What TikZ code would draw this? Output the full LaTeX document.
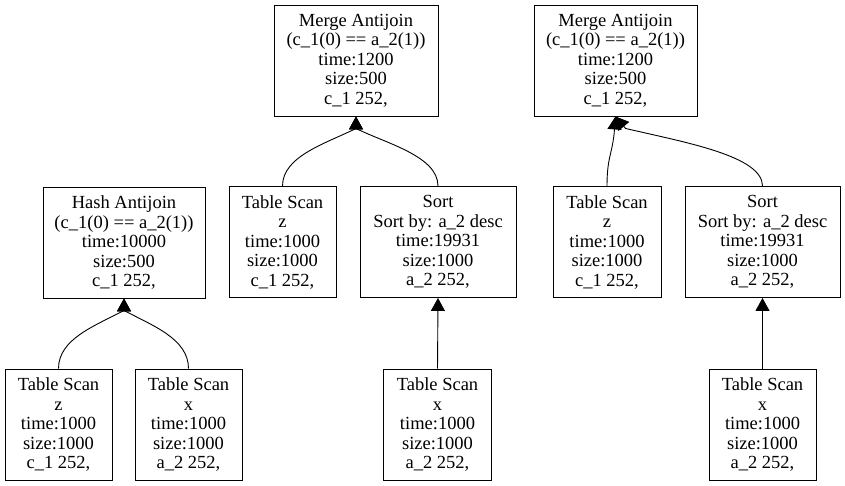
\documentclass[tikz,border=0pt]{standalone}
\usepackage{fontspec}
\setmainfont{Liberation Serif}
\usetikzlibrary{arrows.meta}

\tikzset{
  plan/.style={draw, line width=0.9pt, inner sep=0pt, align=center,
    font=\fontsize{18.5}{19.5}\selectfont, minimum height=111pt},
  flow/.style={line width=0.9pt, -{Triangle[length=13pt,width=14pt]}}
}

\begin{document}
\begin{tikzpicture}[x=1pt, y=-1pt]
  \useasboundingbox (0,0) rectangle (845,485);

  % left plan
  \node[plan, minimum width=162pt] (ha) at (124,242.5) {Hash Antijoin\\(c\_1(0) == a\_2(1))\\time:10000\\size:500\\c\_1 252,};
  \node[plan, minimum width=107pt] (tz1) at (58.5,424.5) {Table Scan\\z\\time:1000\\size:1000\\c\_1 252,};
  \node[plan, minimum width=107pt] (tx1) at (188.5,424.5) {Table Scan\\x\\time:1000\\size:1000\\a\_2 252,};

  % middle plan
  \node[plan, minimum width=164pt] (ma1) at (356,60.5) {Merge Antijoin\\(c\_1(0) == a\_2(1))\\time:1200\\size:500\\c\_1 252,};
  \node[plan, minimum width=107pt] (tz2) at (282.5,242) {Table Scan\\z\\time:1000\\size:1000\\c\_1 252,};
  \node[plan, minimum width=156pt] (so1) at (438,242) {Sort\\Sort by: a\_2 desc\\time:19931\\size:1000\\a\_2 252,};
  \node[plan, minimum width=108pt] (tx2) at (437.5,424.5) {Table Scan\\x\\time:1000\\size:1000\\a\_2 252,};

  % right plan
  \node[plan, minimum width=163pt] (ma2) at (615.5,60.5) {Merge Antijoin\\(c\_1(0) == a\_2(1))\\time:1200\\size:500\\c\_1 252,};
  \node[plan, minimum width=108pt] (tz3) at (607,242) {Table Scan\\z\\time:1000\\size:1000\\c\_1 252,};
  \node[plan, minimum width=155pt] (so2) at (762.5,242) {Sort\\Sort by: a\_2 desc\\time:19931\\size:1000\\a\_2 252,};
  \node[plan, minimum width=107pt] (tx3) at (762.5,424.5) {Table Scan\\x\\time:1000\\size:1000\\a\_2 252,};

  % edges
  \draw[flow] (tz1.north) .. controls +(0,-30) and +(-28,15) .. ([yshift=-12pt]ha.south) -- (ha.south);
  \draw[flow] (tx1.north) .. controls +(0,-30) and +(28,15) .. ([yshift=-12pt]ha.south) -- (ha.south);
  \draw[flow] (tz2.north) .. controls +(0,-30) and +(-30,15) .. ([yshift=-12pt]ma1.south) -- (ma1.south);
  \draw[flow] (so1.north) .. controls +(0,-30) and +(30,15) .. ([yshift=-12pt]ma1.south) -- (ma1.south);
  \draw[flow] (tx2.north) -- (so1.south);
  \draw[flow] (tz3.north) .. controls +(0,-30) and +(-2,25) .. ([shift={(-1pt,-13pt)}]ma2.south) -- (ma2.south);
  \draw[flow] (so2.north) .. controls +(0,-30) and +(60,14) .. ([shift={(10pt,-12pt)}]ma2.south) -- (ma2.south);
  \draw[flow] (tx3.north) -- (so2.south);
\end{tikzpicture}
\end{document}
